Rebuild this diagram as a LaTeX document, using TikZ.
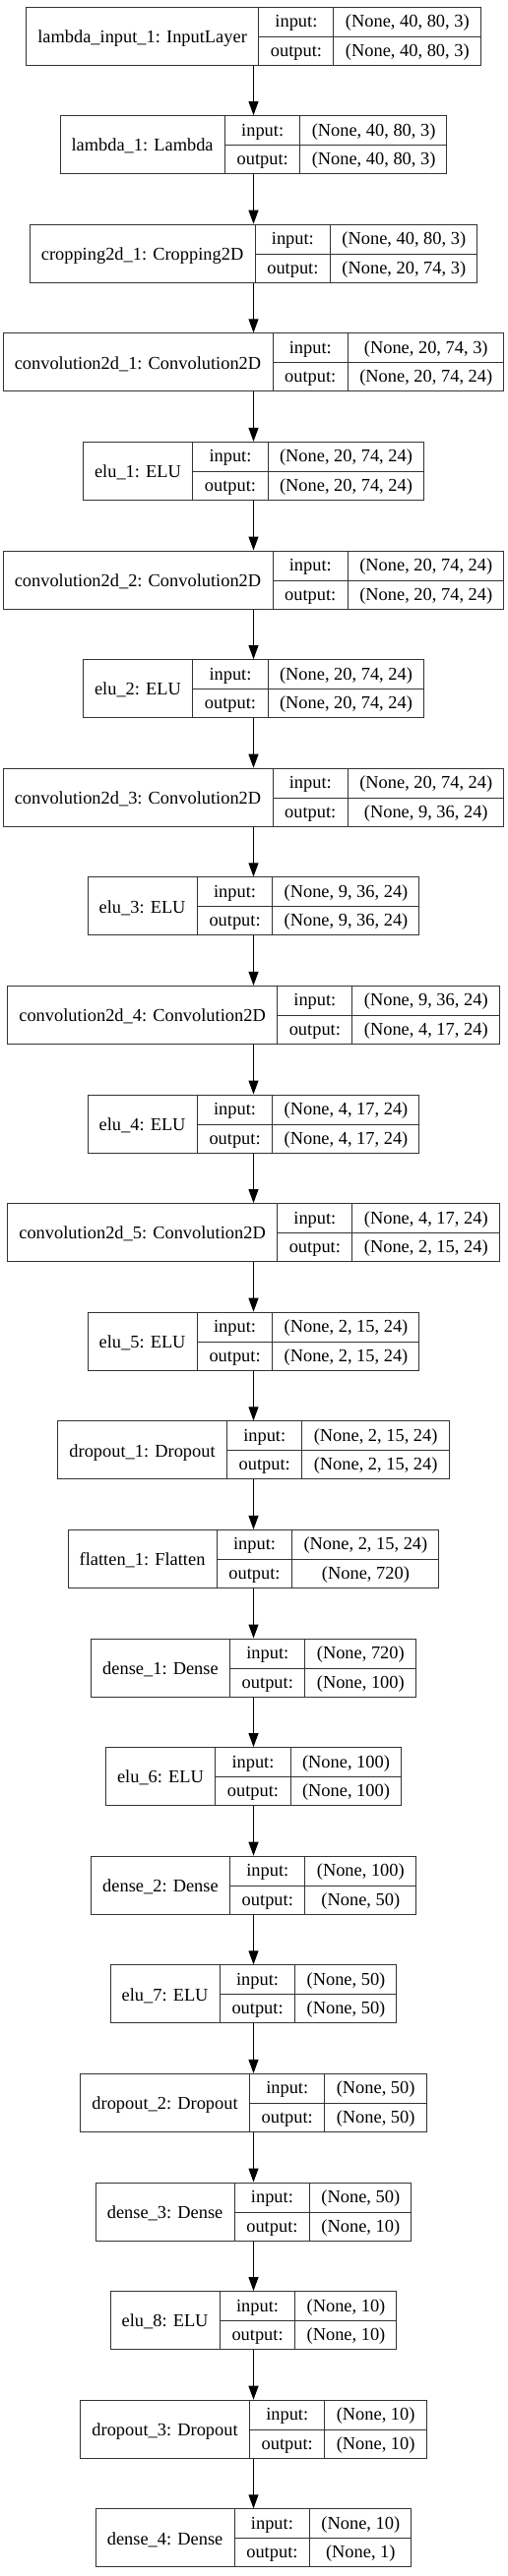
\documentclass[tikz,border=0pt]{standalone}
\usepackage{fontspec}
\setmainfont{Liberation Serif}
\usepackage{multirow}
\usepackage{colortbl}
\usetikzlibrary{arrows.meta,positioning}

\setlength{\tabcolsep}{11.5pt}
\setlength{\arrayrulewidth}{1pt}
\arrayrulecolor{black!80}
\newcommand{\rowstrut}{\rule[-9pt]{0pt}{29.5pt}}
\newcommand{\layerrec}[3]{%
  \begin{tabular}{c|c|c}
    \multirow{2}{*}[-4.75pt]{#1} & \rowstrut input: & #2\\ \cline{2-3}
    & \rowstrut output: & #3
  \end{tabular}}

\begin{document}
\begin{tikzpicture}[
  font=\fontsize{18.4pt}{22pt}\selectfont,
  node distance=50.6pt,
  layer/.style={draw=black!80, line width=1pt, inner sep=0pt, fill=white},
  arr/.style={-{Triangle[length=14pt, width=10pt]}, line width=1pt}]
  \useasboundingbox (0,0) rectangle (515pt,-2619pt);
  \node[layer, anchor=north] (in1) at (257.5pt,-6.5pt) {\layerrec{lambda\_input\_1: InputLayer}{(None, 40, 80, 3)}{(None, 40, 80, 3)}};
  \node[layer, below=of in1] (lambda1) {\layerrec{lambda\_1: Lambda}{(None, 40, 80, 3)}{(None, 40, 80, 3)}};
  \node[layer, below=of lambda1] (crop1) {\layerrec{cropping2d\_1: Cropping2D}{(None, 40, 80, 3)}{(None, 20, 74, 3)}};
  \node[layer, below=of crop1] (conv1) {\layerrec{convolution2d\_1: Convolution2D}{(None, 20, 74, 3)}{(None, 20, 74, 24)}};
  \node[layer, below=of conv1] (elu1) {\layerrec{elu\_1: ELU}{(None, 20, 74, 24)}{(None, 20, 74, 24)}};
  \node[layer, below=of elu1] (conv2) {\layerrec{convolution2d\_2: Convolution2D}{(None, 20, 74, 24)}{(None, 20, 74, 24)}};
  \node[layer, below=of conv2] (elu2) {\layerrec{elu\_2: ELU}{(None, 20, 74, 24)}{(None, 20, 74, 24)}};
  \node[layer, below=of elu2] (conv3) {\layerrec{convolution2d\_3: Convolution2D}{(None, 20, 74, 24)}{(None, 9, 36, 24)}};
  \node[layer, below=of conv3] (elu3) {\layerrec{elu\_3: ELU}{(None, 9, 36, 24)}{(None, 9, 36, 24)}};
  \node[layer, below=of elu3] (conv4) {\layerrec{convolution2d\_4: Convolution2D}{(None, 9, 36, 24)}{(None, 4, 17, 24)}};
  \node[layer, below=of conv4] (elu4) {\layerrec{elu\_4: ELU}{(None, 4, 17, 24)}{(None, 4, 17, 24)}};
  \node[layer, below=of elu4] (conv5) {\layerrec{convolution2d\_5: Convolution2D}{(None, 4, 17, 24)}{(None, 2, 15, 24)}};
  \node[layer, below=of conv5] (elu5) {\layerrec{elu\_5: ELU}{(None, 2, 15, 24)}{(None, 2, 15, 24)}};
  \node[layer, below=of elu5] (drop1) {\layerrec{dropout\_1: Dropout}{(None, 2, 15, 24)}{(None, 2, 15, 24)}};
  \node[layer, below=of drop1] (flat1) {\layerrec{flatten\_1: Flatten}{(None, 2, 15, 24)}{(None, 720)}};
  \node[layer, below=of flat1] (dense1) {\layerrec{dense\_1: Dense}{(None, 720)}{(None, 100)}};
  \node[layer, below=of dense1] (elu6) {\layerrec{elu\_6: ELU}{(None, 100)}{(None, 100)}};
  \node[layer, below=of elu6] (dense2) {\layerrec{dense\_2: Dense}{(None, 100)}{(None, 50)}};
  \node[layer, below=of dense2] (elu7) {\layerrec{elu\_7: ELU}{(None, 50)}{(None, 50)}};
  \node[layer, below=of elu7] (drop2) {\layerrec{dropout\_2: Dropout}{(None, 50)}{(None, 50)}};
  \node[layer, below=of drop2] (dense3) {\layerrec{dense\_3: Dense}{(None, 50)}{(None, 10)}};
  \node[layer, below=of dense3] (elu8) {\layerrec{elu\_8: ELU}{(None, 10)}{(None, 10)}};
  \node[layer, below=of elu8] (drop3) {\layerrec{dropout\_3: Dropout}{(None, 10)}{(None, 10)}};
  \node[layer, below=of drop3] (dense4) {\layerrec{dense\_4: Dense}{(None, 10)}{(None, 1)}};
  \draw[arr] (in1) -- (lambda1);
  \draw[arr] (lambda1) -- (crop1);
  \draw[arr] (crop1) -- (conv1);
  \draw[arr] (conv1) -- (elu1);
  \draw[arr] (elu1) -- (conv2);
  \draw[arr] (conv2) -- (elu2);
  \draw[arr] (elu2) -- (conv3);
  \draw[arr] (conv3) -- (elu3);
  \draw[arr] (elu3) -- (conv4);
  \draw[arr] (conv4) -- (elu4);
  \draw[arr] (elu4) -- (conv5);
  \draw[arr] (conv5) -- (elu5);
  \draw[arr] (elu5) -- (drop1);
  \draw[arr] (drop1) -- (flat1);
  \draw[arr] (flat1) -- (dense1);
  \draw[arr] (dense1) -- (elu6);
  \draw[arr] (elu6) -- (dense2);
  \draw[arr] (dense2) -- (elu7);
  \draw[arr] (elu7) -- (drop2);
  \draw[arr] (drop2) -- (dense3);
  \draw[arr] (dense3) -- (elu8);
  \draw[arr] (elu8) -- (drop3);
  \draw[arr] (drop3) -- (dense4);
\end{tikzpicture}
\end{document}
